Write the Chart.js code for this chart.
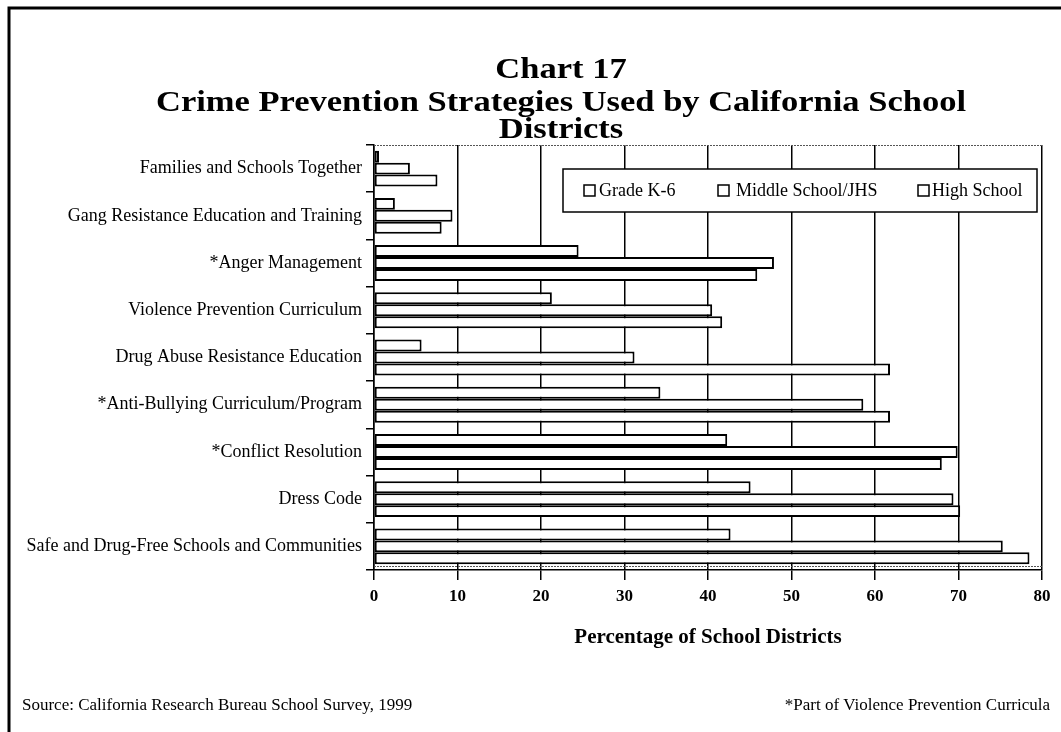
<!DOCTYPE html>
<html>
<head>
<meta charset="utf-8">
<script src="https://cdn.jsdelivr.net/npm/chart.js@4.4.0/dist/chart.umd.min.js"></script>
<style>
    body { margin: 0; background: #fff; }
    #wrap { width: 1061px; height: 732px; }
</style>
</head>
<body>
<div id="wrap"><canvas id="chart"></canvas></div>
<script>
// Chart data
const categories = [
    'Families and Schools Together',
    'Gang Resistance Education and Training',
    '*Anger Management',
    'Violence Prevention Curriculum',
    'Drug Abuse Resistance Education',
    '*Anti-Bullying Curriculum/Program',
    '*Conflict Resolution',
    'Dress Code',
    'Safe and Drug-Free Schools and Communities'
];
const seriesNames = ['Grade K-6', 'Middle School/JHS', 'High School'];
const gradeK6 = [0.6, 2.5, 24.5, 21.3, 5.7, 34.3, 42.3, 45.1, 42.7];
const middleSchool = [4.3, 9.4, 47.9, 40.5, 31.2, 58.6, 69.9, 69.4, 75.3];
const highSchool = [7.6, 8.1, 45.9, 41.7, 61.8, 61.8, 68.0, 70.2, 78.5];
const xTickValues = [0, 10, 20, 30, 40, 50, 60, 70, 80];

const titleLines = ['Chart 17', 'Crime Prevention Strategies Used by California School', 'Districts'];
const sourceNote = 'Source: California Research Bureau School Survey, 1999';
const starNote = '*Part of Violence Prevention Curricula';

const SERIF = '"Liberation Serif", "Times New Roman", serif';

// titles, page frame, notes and the boxed legend
const decorPlugin = {
    id: 'decor',
    afterDraw(chart) {
        const ctx = chart.ctx;
        const area = chart.chartArea;
        ctx.save();

        // page frame (left and top edges)
        ctx.strokeStyle = '#000';
        ctx.lineWidth = 3;
        ctx.beginPath();
        ctx.moveTo(9, 732);
        ctx.lineTo(9, 8);
        ctx.lineTo(1061, 8);
        ctx.stroke();

        // dotted edges of the plot
        ctx.lineWidth = 1;
        ctx.setLineDash([2, 1]);
        ctx.strokeStyle = '#555';
        ctx.beginPath();
        ctx.moveTo(area.left, area.top + 0.5);
        ctx.lineTo(area.right, area.top + 0.5);
        ctx.moveTo(area.left, area.bottom - 3.5);
        ctx.lineTo(area.right, area.bottom - 3.5);
        ctx.stroke();
        ctx.setLineDash([]);

        // title, a little stretched sideways like the scan
        ctx.fillStyle = '#000';
        ctx.textAlign = 'center';
        ctx.textBaseline = 'middle';
        ctx.font = 'bold 30px ' + SERIF;
        const ys = [70, 103, 130];
        titleLines.forEach((t, i) => {
            ctx.save();
            ctx.translate(561, ys[i]);
            ctx.scale(1.15, 1);
            ctx.fillText(t, 0, 0);
            ctx.restore();
        });

        // notes
        ctx.font = '17px ' + SERIF;
        ctx.textAlign = 'left';
        ctx.fillText(sourceNote, 22, 706);
        ctx.textAlign = 'right';
        ctx.fillText(starNote, 1050, 706);

        // legend box
        const lx = 563, ly = 169, lw = 474, lh = 43;
        ctx.fillStyle = '#fff';
        ctx.fillRect(lx, ly, lw, lh);
        ctx.strokeStyle = '#000';
        ctx.lineWidth = 1.5;
        ctx.strokeRect(lx, ly, lw, lh);
        const boxX = [584, 718, 918];
        const textX = [599, 736, 932];
        ctx.font = '18px ' + SERIF;
        ctx.textAlign = 'left';
        chart.data.datasets.forEach((ds, i) => {
            ctx.fillStyle = '#fff';
            ctx.fillRect(boxX[i], ly + 16, 11, 11);
            ctx.strokeStyle = '#000';
            ctx.lineWidth = 1.5;
            ctx.strokeRect(boxX[i], ly + 16, 11, 11);
            ctx.fillStyle = '#000';
            ctx.fillText(ds.label, textX[i], ly + 22);
        });

        ctx.restore();
    }
};

const seriesValues = [gradeK6, middleSchool, highSchool];

new Chart(document.getElementById('chart'), {
    type: 'bar',
    data: {
        labels: categories,
        datasets: seriesNames.map((name, i) => ({
            label: name,
            data: seriesValues[i],
            backgroundColor: '#fff',
            borderColor: '#000',
            borderWidth: 2,
            borderSkipped: false,
            categoryPercentage: 0.76,
            barPercentage: 1.0
        }))
    },
    options: {
        indexAxis: 'y',
        responsive: true,
        maintainAspectRatio: false,
        animation: false,
        layout: {
            padding: { left: 12, right: 19, top: 145, bottom: 82 }
        },
        plugins: {
            legend: { display: false },
            tooltip: { enabled: false }
        },
        scales: {
            x: {
                min: 0,
                max: 80,
                afterBuildTicks: axis => {
                    axis.ticks = xTickValues.map(v => ({ value: v }));
                },
                afterFit: axis => { axis.height = 80; },
                grid: {
                    color: '#000',
                    lineWidth: 1.5,
                    tickLength: 10
                },
                border: { color: '#000', width: 1.5 },
                ticks: {
                    color: '#000',
                    padding: 6,
                    font: { family: SERIF, size: 17, weight: 'bold' }
                },
                title: {
                    display: true,
                    text: 'Percentage of School Districts',
                    color: '#000',
                    font: { family: SERIF, size: 21, weight: 'bold' },
                    padding: { top: 0, bottom: 0 }
                }
            },
            y: {
                afterFit: axis => { axis.width = 362; },
                grid: {
                    offset: true,
                    drawOnChartArea: false,
                    color: '#000',
                    lineWidth: 1.5,
                    tickLength: 8
                },
                border: { color: '#000', width: 1.5 },
                ticks: {
                    color: '#000',
                    padding: 4,
                    font: { family: SERIF, size: 18 }
                }
            }
        }
    },
    plugins: [decorPlugin]
});
</script>
</body>
</html>
